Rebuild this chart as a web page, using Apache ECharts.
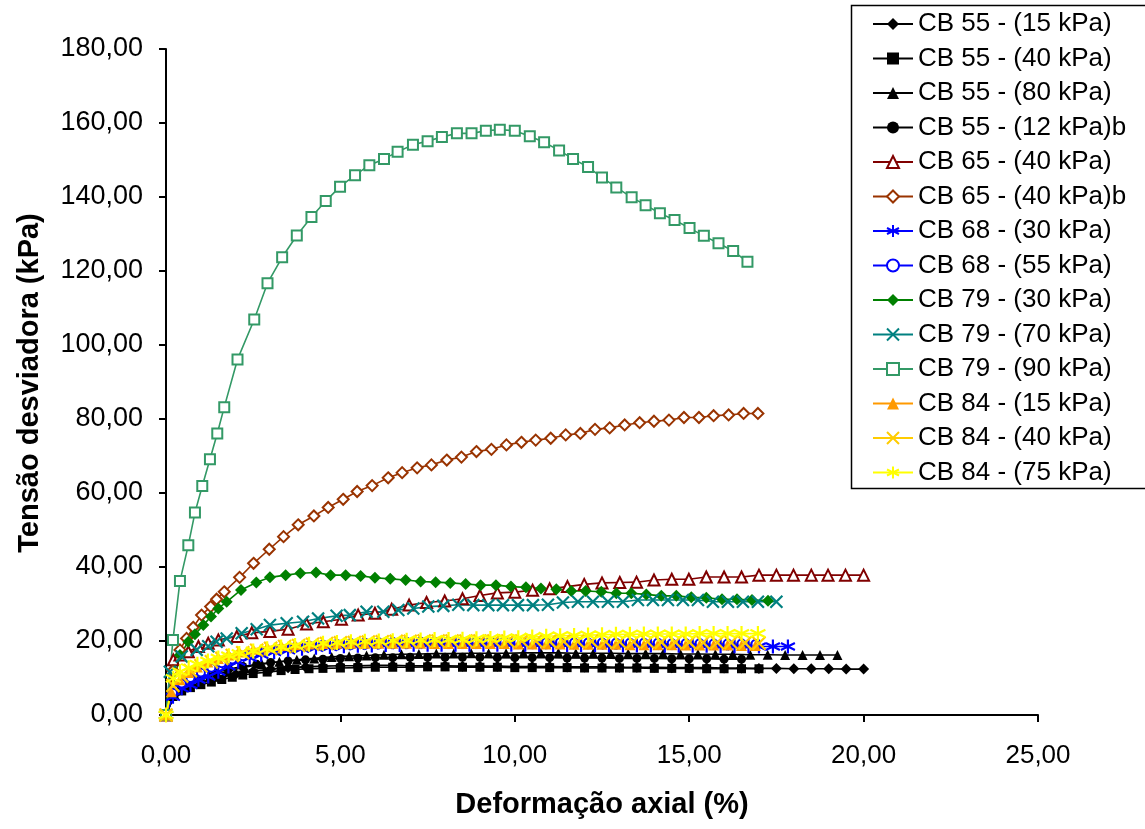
<!DOCTYPE html>
<html>
<head>
<meta charset="utf-8">
<script src="https://cdn.jsdelivr.net/npm/echarts@6/dist/echarts.min.js"></script>
<style>
  html, body { margin: 0; padding: 0; background: #fff; }
  #chart { width: 1145px; height: 829px; }
</style>
</head>
<body>
<div id="chart"></div>
<script>
// Triaxial tests: deviator stress (kPa) against axial strain (%)
const xTicks = [0, 5, 10, 15, 20, 25];
const yTicks = [0, 20, 40, 60, 80, 100, 120, 140, 160, 180];

const seriesNames = [
  'CB 55 - (15 kPa)', 'CB 55 - (40 kPa)', 'CB 55 - (80 kPa)', 'CB 55 - (12 kPa)b',
  'CB 65 - (40 kPa)', 'CB 65 - (40 kPa)b', 'CB 68 - (30 kPa)', 'CB 68 - (55 kPa)',
  'CB 79 - (30 kPa)', 'CB 79 - (70 kPa)', 'CB 79 - (90 kPa)', 'CB 84 - (15 kPa)',
  'CB 84 - (40 kPa)', 'CB 84 - (75 kPa)'
];

// [axial strain %, deviator stress kPa]
const cb55_15 = [[0,0],[0.25,5.5],[0.5,7.2],[1.0,8.8],[1.5,10.0],[2.0,11.0],[2.5,11.8],[3.0,12.4],[3.5,12.8],[4.0,13.0],[4.5,13.2],[5.0,13.3],[5.5,13.3],[6.0,13.4],[6.5,13.4],[7.0,13.3],[7.5,13.3],[8.0,13.3],[8.5,13.2],[9.0,13.2],[9.5,13.2],[10.0,13.1],[10.5,13.1],[11.0,13.1],[11.5,13.0],[12.0,13.0],[12.5,13.0],[13.0,12.9],[13.5,12.9],[14.0,12.9],[14.5,12.8],[15.0,12.8],[15.5,12.8],[16.0,12.7],[16.5,12.7],[17.0,12.6],[17.5,12.6],[18.0,12.5],[18.5,12.5],[19.0,12.5],[19.5,12.4],[20.0,12.4]];
const cb55_40 = [[0,0],[0.2,5.0],[0.45,6.5],[0.7,7.4],[1.0,8.2],[1.3,8.9],[1.6,9.6],[1.9,10.2],[2.2,10.8],[2.5,11.2],[2.9,11.6],[3.3,12.0],[3.7,12.3],[4.1,12.5],[4.5,12.6],[5.0,12.7],[5.5,12.8],[6.0,12.9],[6.5,12.9],[7.0,12.9],[7.5,13.0],[8.0,13.0],[8.5,12.9],[9.0,12.9],[9.5,12.9],[10.0,12.8],[10.5,12.8],[11.0,12.8],[11.5,12.8],[12.0,12.7],[12.5,12.7],[13.0,12.7],[13.5,12.7],[14.0,12.6],[14.5,12.6],[15.0,12.6],[15.5,12.5],[16.0,12.5],[16.5,12.5],[17.0,12.5]];
const cb55_80 = [[0,0],[0.25,5.5],[0.5,7.5],[0.75,8.8],[1.25,10.4],[1.75,11.8],[2.25,12.9],[2.75,13.7],[3.25,14.4],[3.75,14.9],[4.25,15.3],[4.75,15.7],[5.25,15.9],[5.75,16.1],[6.25,16.3],[6.75,16.4],[7.25,16.5],[7.75,16.6],[8.25,16.6],[8.75,16.7],[9.25,16.7],[9.75,16.7],[10.25,16.8],[10.75,16.8],[11.25,16.8],[11.75,16.7],[12.25,16.7],[12.75,16.7],[13.25,16.6],[13.75,16.6],[14.25,16.6],[14.75,16.5],[15.25,16.5],[15.75,16.4],[16.25,16.4],[16.75,16.3],[17.25,16.3],[17.75,16.2],[18.25,16.2],[18.75,16.2],[19.25,16.2]];
const cb55_12b = [[0,0],[0.2,5.8],[0.45,7.8],[0.7,9.0],[1.0,10.2],[1.4,11.4],[1.8,12.4],[2.2,13.1],[2.6,13.7],[3.0,14.2],[3.5,14.6],[4.0,14.9],[4.5,15.1],[5.0,15.3],[5.5,15.4],[6.0,15.5],[6.5,15.5],[7.0,15.6],[7.5,15.6],[8.0,15.6],[8.5,15.6],[9.0,15.6],[9.5,15.5],[10.0,15.5],[10.5,15.5],[11.0,15.5],[11.5,15.4],[12.0,15.4],[12.5,15.4],[13.0,15.3],[13.5,15.3],[14.0,15.3],[14.5,15.2],[15.0,15.2],[15.5,15.2],[16.0,15.1],[16.5,15.1]];
const cb65_40 = [[0,0],[0.21,14.9],[0.40,16.2],[0.64,17.1],[0.93,18.5],[1.21,19.4],[1.50,20.3],[2.03,21.2],[2.46,22.2],[2.98,22.6],[3.50,23.2],[4.03,24.6],[4.51,25.2],[5.03,25.9],[5.51,27.0],[5.99,27.5],[6.47,28.6],[6.97,29.7],[7.47,30.4],[7.99,30.8],[8.50,31.4],[9.00,32.3],[9.50,33.0],[10.00,33.2],[10.51,33.7],[11.00,34.1],[11.51,34.7],[11.99,35.3],[12.50,35.7],[13.01,35.8],[13.49,35.9],[13.99,36.5],[14.50,36.7],[14.99,36.7],[15.49,37.3],[16.00,37.3],[16.50,37.3],[17.00,37.8],[17.50,37.8],[17.99,37.8],[18.50,37.8],[18.98,37.8],[19.48,37.8],[20.00,37.8]];
const cb65_40b = [[0,0],[0.2,12.0],[0.4,17.6],[0.59,20.7],[0.78,23.7],[1.02,27.0],[1.28,29.3],[1.45,31.3],[1.67,33.3],[2.11,37.2],[2.51,41.0],[2.96,44.8],[3.37,48.2],[3.79,51.4],[4.24,53.8],[4.65,56.1],[5.08,58.3],[5.48,60.4],[5.91,62.0],[6.37,64.1],[6.77,65.5],[7.20,66.8],[7.61,67.6],[8.05,68.9],[8.47,69.7],[8.90,71.2],[9.33,71.8],[9.76,73.0],[10.19,73.7],[10.60,74.3],[11.03,74.8],[11.46,75.7],[11.88,76.1],[12.30,77.2],[12.72,77.6],[13.15,78.4],[13.58,79.0],[13.99,79.4],[14.42,79.7],[14.85,80.4],[15.28,80.4],[15.70,80.9],[16.13,81.1],[16.56,81.5],[16.97,81.5]];
const cb68_30 = [[0,0],[0.2,4.9],[0.45,7.2],[0.7,8.1],[0.93,9.5],[1.21,10.4],[1.5,11.7],[1.79,13.1],[2.07,14.4],[2.4,15.5],[2.73,16.3],[3.1,17.0],[3.5,17.5],[3.9,17.9],[4.3,18.2],[4.7,18.4],[5.1,18.6],[5.5,18.7],[5.9,18.8],[6.3,18.9],[6.7,18.9],[7.1,19.0],[7.5,19.0],[7.9,19.0],[8.3,19.0],[8.7,19.0],[9.1,19.0],[9.5,19.0],[9.9,19.0],[10.3,19.0],[10.7,18.9],[11.1,18.9],[11.5,18.9],[11.9,18.9],[12.3,18.9],[12.7,18.8],[13.1,18.8],[13.5,18.8],[13.9,18.8],[14.3,18.7],[14.7,18.7],[15.1,18.7],[15.5,18.7],[15.9,18.6],[16.3,18.6],[16.7,18.6],[17.0,18.5],[17.4,18.5],[17.83,18.5]];
const cb68_55 = [[0,0],[0.2,6.0],[0.45,8.5],[0.7,10.0],[1.0,11.5],[1.3,12.8],[1.6,14.0],[1.9,15.0],[2.2,15.9],[2.5,16.6],[2.9,17.3],[3.3,17.9],[3.7,18.3],[4.1,18.7],[4.5,19.0],[4.9,19.2],[5.3,19.4],[5.7,19.5],[6.1,19.6],[6.5,19.7],[6.9,19.7],[7.3,19.8],[7.7,19.8],[8.1,19.8],[8.5,19.8],[8.9,19.8],[9.3,19.8],[9.7,19.8],[10.1,19.7],[10.5,19.7],[10.9,19.7],[11.3,19.7],[11.7,19.6],[12.1,19.6],[12.5,19.6],[12.9,19.5],[13.3,19.5],[13.7,19.5],[14.1,19.5],[14.5,19.4],[14.9,19.4],[15.3,19.4],[15.7,19.3],[16.1,19.3],[16.5,19.3],[16.9,19.2]];
const cb79_30 = [[0,0],[0.40,16.2],[0.64,19.8],[0.83,21.8],[1.07,24.3],[1.29,26.6],[1.50,28.8],[1.74,30.6],[2.15,33.8],[2.59,35.8],[2.98,37.2],[3.43,37.8],[3.85,38.3],[4.30,38.5],[4.72,37.8],[5.15,37.8],[5.58,37.6],[5.99,37.1],[6.43,36.8],[6.87,36.5],[7.30,36.1],[7.73,35.9],[8.15,35.7],[8.59,35.4],[9.02,35.1],[9.46,35.1],[9.89,34.7],[10.32,34.5],[10.75,34.2],[11.19,34.0],[11.62,33.5],[12.03,33.5],[12.48,33.3],[12.91,32.9],[13.34,32.9],[13.77,32.6],[14.20,32.2],[14.63,32.2],[15.06,31.8],[15.49,31.7],[15.94,31.3],[16.37,31.3],[16.80,31.1],[17.26,30.9]];
const cb79_70 = [[0,0],[0.11,11.7],[0.45,15.8],[0.88,17.6],[1.21,18.6],[1.45,19.8],[1.74,20.7],[2.17,22.1],[2.60,23.2],[2.98,24.3],[3.46,24.8],[3.93,25.2],[4.36,26.1],[4.89,26.8],[5.27,27.0],[5.75,27.9],[6.23,27.9],[6.66,28.4],[7.09,28.8],[7.52,29.3],[7.95,29.5],[8.38,29.8],[8.81,29.7],[9.24,29.7],[9.66,29.7],[10.09,29.7],[10.52,29.7],[10.95,29.8],[11.38,30.4],[11.81,30.6],[12.24,30.6],[12.67,30.6],[13.10,30.6],[13.53,31.1],[13.96,31.1],[14.39,31.1],[14.82,31.1],[15.25,31.1],[15.68,30.6],[16.11,30.6],[16.54,30.6],[16.97,30.6],[17.50,30.6]];
const cb79_90 = [[0,0],[0.20,20.3],[0.40,36.2],[0.64,45.9],[0.83,54.7],[1.04,61.9],[1.26,69.1],[1.47,76.1],[1.67,83.2],[2.05,96.1],[2.53,106.9],[2.91,116.7],[3.33,123.7],[3.75,129.6],[4.17,134.6],[4.58,138.9],[4.99,142.8],[5.42,145.9],[5.83,148.6],[6.25,150.3],[6.64,152.2],[7.08,154.1],[7.50,155.1],[7.91,156.2],[8.34,157.2],[8.76,157.2],[9.17,157.9],[9.57,158.2],[10.00,157.9],[10.43,156.4],[10.84,154.8],[11.27,152.6],[11.67,150.3],[12.10,148.1],[12.50,145.3],[12.91,142.6],[13.35,139.9],[13.75,137.8],[14.16,135.6],[14.58,133.8],[15.01,131.6],[15.42,129.5],[15.84,127.5],[16.26,125.4],[16.67,122.5]];
const cb84_15 = [[0,0],[0.15,6.3],[0.4,9.5],[0.65,11.5],[0.9,13.0],[1.2,14.3],[1.5,15.3],[1.8,16.2],[2.1,17.0],[2.5,17.8],[2.9,18.4],[3.3,18.8],[3.7,19.0],[4.1,19.2],[4.5,19.3],[4.9,19.4],[5.3,19.4],[5.7,19.4],[6.1,19.4],[6.5,19.4],[6.9,19.4],[7.3,19.4],[7.7,19.3],[8.1,19.3],[8.5,19.3],[8.9,19.3],[9.3,19.3],[9.7,19.3],[10.1,19.2],[10.5,19.2],[10.9,19.2],[11.3,19.2],[11.7,19.1],[12.1,19.1],[12.5,19.1],[12.9,19.1],[13.3,19.0],[13.7,19.0],[14.1,19.0],[14.5,19.0],[14.9,18.9],[15.3,18.9],[15.7,18.9],[16.1,18.9],[16.5,18.8],[16.9,18.8]];
const cb84_40 = [[0,0],[0.2,8.0],[0.45,10.5],[0.7,12.0],[1.0,13.3],[1.3,14.4],[1.6,15.3],[1.9,16.1],[2.2,16.8],[2.6,17.5],[3.0,18.0],[3.4,18.5],[3.8,18.8],[4.2,19.1],[4.6,19.3],[5.0,19.5],[5.4,19.6],[5.8,19.7],[6.2,19.8],[6.6,19.9],[7.0,19.9],[7.4,20.0],[7.8,20.0],[8.2,20.0],[8.6,20.0],[9.0,20.0],[9.4,20.0],[9.8,20.0],[10.2,20.0],[10.6,20.0],[11.0,19.9],[11.4,19.9],[11.8,19.9],[12.2,19.9],[12.6,19.8],[13.0,19.8],[13.4,19.8],[13.8,19.8],[14.2,19.7],[14.6,19.7],[15.0,19.7],[15.4,19.6],[15.8,19.6],[16.2,19.6],[16.6,19.5],[17.0,19.4]];
const cb84_75 = [[0,0],[0.21,9.9],[0.4,11.7],[0.65,12.8],[0.9,13.7],[1.2,14.6],[1.5,15.4],[1.8,16.0],[2.1,16.6],[2.5,17.3],[2.9,17.9],[3.3,18.4],[3.7,18.8],[4.1,19.1],[4.5,19.4],[4.9,19.6],[5.3,19.8],[5.7,19.9],[6.1,20.0],[6.5,20.1],[6.9,20.2],[7.3,20.3],[7.7,20.4],[8.1,20.4],[8.5,20.5],[8.9,20.6],[9.3,20.7],[9.7,20.8],[10.1,20.9],[10.5,21.1],[10.9,21.3],[11.3,21.4],[11.7,21.5],[12.1,21.6],[12.5,21.7],[12.9,21.8],[13.3,21.8],[13.7,21.9],[14.1,21.9],[14.5,21.9],[14.9,21.9],[15.3,22.0],[15.7,22.0],[16.1,22.0],[16.5,22.0],[16.97,22.0]];

const seriesData = [cb55_15, cb55_40, cb55_80, cb55_12b, cb65_40, cb65_40b, cb68_30, cb68_55,
  cb79_30, cb79_70, cb79_90, cb84_15, cb84_40, cb84_75];

const SYM_X = 'path://M0,0L10,10M10,0L0,10';
const SYM_STAR = 'path://M5,0L5,10M0.7,2.5L9.3,7.5M9.3,2.5L0.7,7.5';

// per-series look: colour, marker, marker size, stroked marker?
const looks = [
  { color: '#000000', symbol: 'diamond', size: 11 },
  { color: '#000000', symbol: 'rect', size: 9 },
  { color: '#000000', symbol: 'triangle', size: 10 },
  { color: '#000000', symbol: 'circle', size: 9 },
  { color: '#800000', symbol: 'emptyTriangle', size: 11 },
  { color: '#993300', symbol: 'emptyDiamond', size: 11 },
  { color: '#0000ff', symbol: SYM_STAR, size: 14, stroke: true },
  { color: '#0000ff', symbol: 'emptyCircle', size: 8 },
  { color: '#008000', symbol: 'diamond', size: 12 },
  { color: '#008080', symbol: SYM_X, size: 12, stroke: true },
  { color: '#339966', symbol: 'emptyRect', size: 10 },
  { color: '#ff9900', symbol: 'triangle', size: 11 },
  { color: '#ffcc00', symbol: SYM_X, size: 13, stroke: true },
  { color: '#ffff00', symbol: SYM_STAR, size: 15, stroke: true }
];

const fmt = v => v.toFixed(2).replace('.', ',');
const FONT = 'Liberation Sans, Arial, sans-serif';

const series = seriesNames.map((name, i) => {
  const lk = looks[i];
  const itemStyle = { color: lk.color };
  if (lk.stroke || lk.symbol.indexOf('empty') === 0) {
    itemStyle.borderColor = lk.color;
    itemStyle.borderWidth = lk.stroke ? 2.2 : 1.8;
  }
  return {
    name: name,
    type: 'line',
    data: seriesData[i],
    symbol: lk.symbol,
    symbolSize: lk.size,
    showSymbol: true,
    showAllSymbol: true,
    lineStyle: { color: lk.color, width: 1.6 },
    itemStyle: itemStyle,
    emphasis: { disabled: true },
    animation: false
  };
});

const chart = echarts.init(document.getElementById('chart'), null, { renderer: 'canvas' });
chart.setOption({
  backgroundColor: '#ffffff',
  animation: false,
  grid: { left: 166, top: 49, right: 107, bottom: 114, containLabel: false },
  xAxis: {
    type: 'value',
    min: xTicks[0],
    max: xTicks[xTicks.length - 1],
    interval: xTicks[1] - xTicks[0],
    axisLine: { show: true, lineStyle: { color: '#000', width: 2 } },
    axisTick: { show: true, length: 7, lineStyle: { color: '#000', width: 2 } },
    splitLine: { show: false },
    axisLabel: { color: '#000', fontSize: 26, fontFamily: FONT, margin: 28, formatter: fmt }
  },
  yAxis: {
    type: 'value',
    min: yTicks[0],
    max: yTicks[yTicks.length - 1],
    interval: yTicks[1] - yTicks[0],
    axisLine: { show: true, lineStyle: { color: '#000', width: 2 } },
    axisTick: { show: true, length: 7, lineStyle: { color: '#000', width: 2 } },
    splitLine: { show: false },
    axisLabel: { color: '#000', fontSize: 27, fontFamily: FONT, margin: 23, formatter: fmt }
  },
  legend: {
    orient: 'vertical',
    left: 872,
    top: 10,
    itemWidth: 40,
    itemHeight: 15,
    itemGap: 6.5,
    padding: 0,
    selectedMode: false,
    textStyle: { color: '#000', fontSize: 26, fontFamily: FONT, lineHeight: 28 },
    data: seriesNames
  },
  graphic: [
    {
      type: 'rect',
      shape: { x: 851.5, y: 5.5, width: 300, height: 483 },
      style: { fill: 'none', stroke: '#000', lineWidth: 1.5 },
      z: 100
    },
    {
      type: 'text',
      x: 602, y: 805,
      style: { text: 'Deformação axial (%)', fill: '#000', font: 'bold 29px ' + FONT, textAlign: 'center', textVerticalAlign: 'middle' }
    },
    {
      type: 'text',
      x: 30, y: 383,
      rotation: Math.PI / 2,
      style: { text: 'Tensão desviadora (kPa)', fill: '#000', font: 'bold 29px ' + FONT, textAlign: 'center', textVerticalAlign: 'middle' }
    }
  ],
  series: series
});
</script>
</body>
</html>
